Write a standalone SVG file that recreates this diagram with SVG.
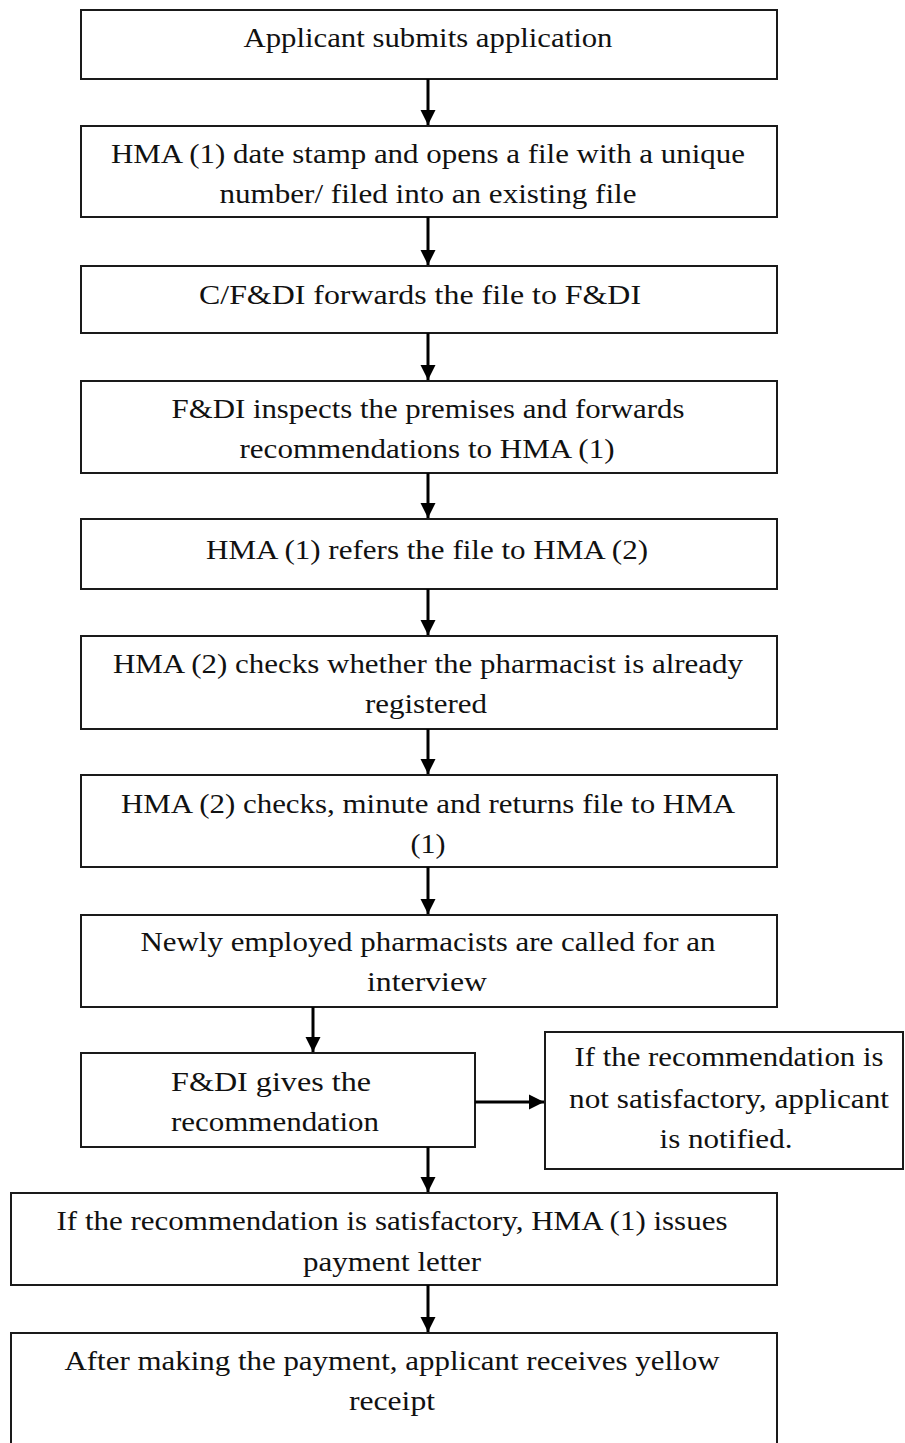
<svg xmlns="http://www.w3.org/2000/svg" width="905" height="1443" viewBox="0 0 905 1443">
<defs>
<style>
.box{fill:#fff;stroke:#1a1a1a;stroke-width:2}
.t{font-family:"Liberation Serif","Times New Roman",serif;font-size:27px;fill:#111;text-anchor:middle}
.c{stroke:#000;stroke-width:3;fill:none}
</style>
<marker id="ah" viewBox="0 0 10 10" refX="10" refY="5" markerWidth="5" markerHeight="5.5" markerUnits="strokeWidth" orient="auto">
<path d="M0,0 L10,5 L0,10 Z" fill="#000"/>
</marker>
</defs>
<rect width="905" height="1443" fill="#fff"/>
<g id="n1"><rect class="box" x="81" y="10" width="696" height="69"/>
<text class="t" x="428" y="47" textLength="369" lengthAdjust="spacingAndGlyphs">Applicant submits application</text></g>
<g id="n2"><rect class="box" x="81" y="126" width="696" height="91"/>
<text class="t" x="428" y="163" textLength="634" lengthAdjust="spacingAndGlyphs">HMA (1) date stamp and opens a file with a unique</text>
<text class="t" x="428" y="203" textLength="417" lengthAdjust="spacingAndGlyphs">number/ filed into an existing file</text></g>
<g id="n3"><rect class="box" x="81" y="266" width="696" height="67"/>
<text class="t" x="420" y="304" textLength="442" lengthAdjust="spacingAndGlyphs">C/F&amp;DI forwards the file to F&amp;DI</text></g>
<g id="n4"><rect class="box" x="81" y="381" width="696" height="92"/>
<text class="t" x="428" y="418" textLength="513" lengthAdjust="spacingAndGlyphs">F&amp;DI inspects the premises and forwards</text>
<text class="t" x="427" y="458" textLength="375" lengthAdjust="spacingAndGlyphs">recommendations to HMA (1)</text></g>
<g id="n5"><rect class="box" x="81" y="519" width="696" height="70"/>
<text class="t" x="427" y="559" textLength="442" lengthAdjust="spacingAndGlyphs">HMA (1) refers the file to HMA (2)</text></g>
<g id="n6"><rect class="box" x="81" y="636" width="696" height="93"/>
<text class="t" x="428" y="673" textLength="630" lengthAdjust="spacingAndGlyphs">HMA (2) checks whether the pharmacist is already</text>
<text class="t" x="426" y="713" textLength="122" lengthAdjust="spacingAndGlyphs">registered</text></g>
<g id="n7"><rect class="box" x="81" y="775" width="696" height="92"/>
<text class="t" x="428" y="813" textLength="614" lengthAdjust="spacingAndGlyphs">HMA (2) checks, minute and returns file to HMA</text>
<text class="t" x="428" y="853" textLength="35" lengthAdjust="spacingAndGlyphs">(1)</text></g>
<g id="n8"><rect class="box" x="81" y="915" width="696" height="92"/>
<text class="t" x="428" y="951" textLength="575" lengthAdjust="spacingAndGlyphs">Newly employed pharmacists are called for an</text>
<text class="t" x="427" y="991" textLength="120" lengthAdjust="spacingAndGlyphs">interview</text></g>
<g id="n9"><rect class="box" x="81" y="1053" width="394" height="94"/>
<text class="t" x="271" y="1091" textLength="200" lengthAdjust="spacingAndGlyphs">F&amp;DI gives the</text>
<text class="t" x="275" y="1131" textLength="208" lengthAdjust="spacingAndGlyphs">recommendation</text></g>
<g id="n10"><rect class="box" x="545" y="1032" width="358" height="137"/>
<text class="t" x="729" y="1066" textLength="309" lengthAdjust="spacingAndGlyphs">If the recommendation is</text>
<text class="t" x="729" y="1108" textLength="320" lengthAdjust="spacingAndGlyphs">not satisfactory, applicant</text>
<text class="t" x="726" y="1148" textLength="133" lengthAdjust="spacingAndGlyphs">is notified.</text></g>
<g id="n11"><rect class="box" x="11" y="1193" width="766" height="92"/>
<text class="t" x="392" y="1230" textLength="671" lengthAdjust="spacingAndGlyphs">If the recommendation is satisfactory, HMA (1) issues</text>
<text class="t" x="392" y="1271" textLength="178" lengthAdjust="spacingAndGlyphs">payment letter</text></g>
<g id="n12"><rect class="box" x="11" y="1333" width="766" height="120"/>
<text class="t" x="392" y="1370" textLength="655" lengthAdjust="spacingAndGlyphs">After making the payment, applicant receives yellow</text>
<text class="t" x="392" y="1410" textLength="86" lengthAdjust="spacingAndGlyphs">receipt</text></g>
<g id="connectors">
<line class="c" x1="428" y1="79" x2="428" y2="125" marker-end="url(#ah)"/>
<line class="c" x1="428" y1="217" x2="428" y2="265" marker-end="url(#ah)"/>
<line class="c" x1="428" y1="333" x2="428" y2="380" marker-end="url(#ah)"/>
<line class="c" x1="428" y1="473" x2="428" y2="518" marker-end="url(#ah)"/>
<line class="c" x1="428" y1="589" x2="428" y2="635" marker-end="url(#ah)"/>
<line class="c" x1="428" y1="729" x2="428" y2="774" marker-end="url(#ah)"/>
<line class="c" x1="428" y1="867" x2="428" y2="914" marker-end="url(#ah)"/>
<line class="c" x1="313" y1="1007" x2="313" y2="1052" marker-end="url(#ah)"/>
<line class="c" x1="475" y1="1102" x2="544" y2="1102" marker-end="url(#ah)"/>
<line class="c" x1="428" y1="1147" x2="428" y2="1192" marker-end="url(#ah)"/>
<line class="c" x1="428" y1="1285" x2="428" y2="1332" marker-end="url(#ah)"/>
</g>
</svg>
